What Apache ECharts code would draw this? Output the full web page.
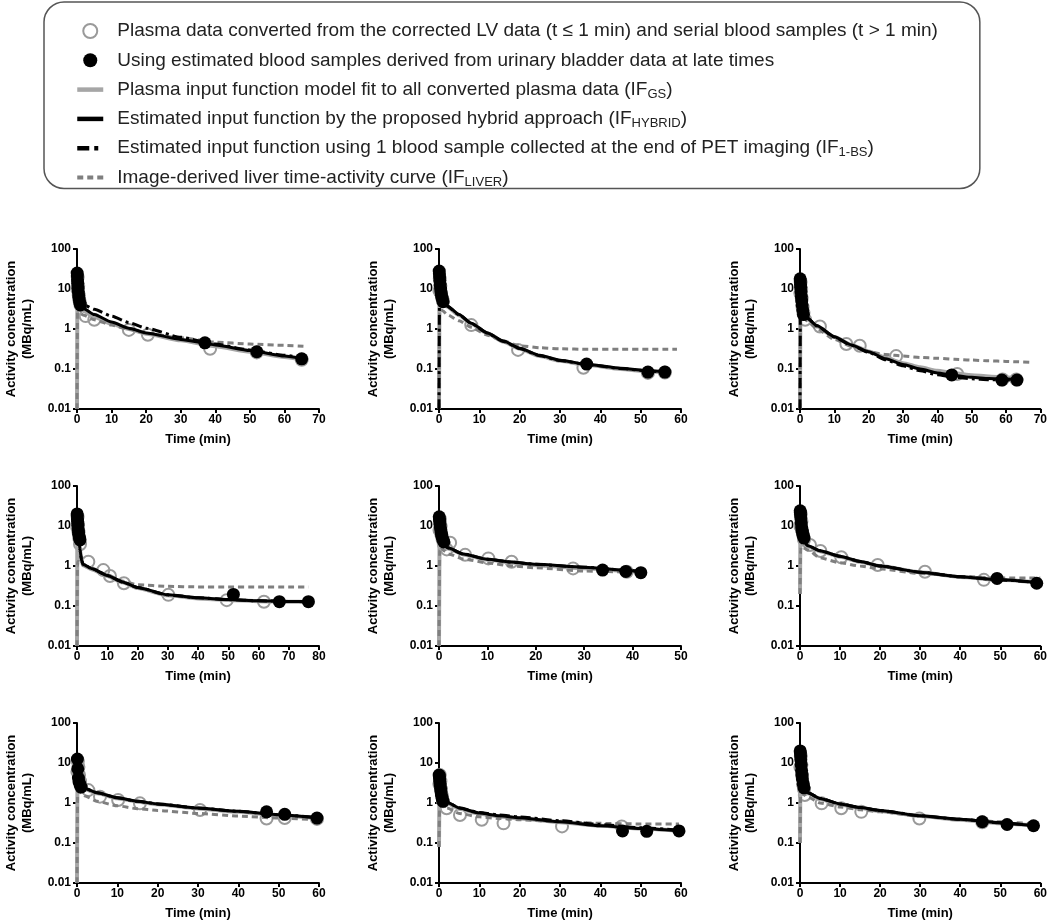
<!DOCTYPE html>
<html>
<head>
<meta charset="utf-8">
<script src="https://cdn.jsdelivr.net/npm/echarts@6/dist/echarts.min.js"></script>
<style>
  html, body { margin: 0; padding: 0; background: #fff; }
  #chart { width: 1050px; height: 923px; }
</style>
</head>
<body>
<div id="chart"></div>
<script>
// x axis end (min) of each panel, row by row
const xMax = [70, 60, 70, 80, 50, 60, 60, 60, 60];

// open grey circles: converted plasma data [t, MBq/mL]
const plasmaPts = [
  [[0.1, 10], [0.2, 20], [0.35, 12], [0.5, 7], [0.75, 5], [1, 4], [2.5, 2.1], [5, 1.7], [15, 0.95], [20.5, 0.72], [38.5, 0.32], [52, 0.26], [65, 0.17]],
  [[0.1, 9], [0.2, 18], [0.35, 12], [0.5, 8], [0.75, 6], [1, 5], [8, 1.25], [19.6, 0.3], [35.8, 0.107], [51.8, 0.08], [56, 0.082]],
  [[0.1, 8], [0.2, 15], [0.35, 10], [0.5, 6], [0.75, 3.5], [1, 2.5], [1.5, 1.7], [5.8, 1.15], [13.5, 0.42], [17.4, 0.38], [28, 0.21], [45.8, 0.075], [59, 0.055], [63, 0.055]],
  [[0.1, 9], [0.2, 17], [0.35, 11], [0.5, 7], [0.75, 5], [1, 3.5], [3.75, 1.28], [8.7, 0.79], [10.9, 0.56], [15.5, 0.37], [30.2, 0.19], [49.5, 0.14], [61.8, 0.128]],
  [[0.1, 8], [0.2, 15], [0.35, 10], [0.5, 6], [0.75, 4.5], [1, 3.5], [1.6, 2.6], [2.3, 3.8], [5.4, 1.9], [10.2, 1.55], [15, 1.28], [27.7, 0.87], [38.8, 0.72]],
  [[0.1, 10], [0.2, 20], [0.35, 13], [0.5, 8], [0.75, 6], [1, 4.5], [2.5, 3.35], [5.1, 2.37], [10.3, 1.65], [19.4, 1.06], [31.2, 0.72], [45.9, 0.45]],
  [[0.1, 6], [0.2, 11], [0.35, 8], [0.5, 5], [0.75, 3.5], [1, 2.6], [2.8, 2.1], [5.7, 1.44], [10.2, 1.19], [15.6, 0.98], [30.5, 0.67], [47, 0.41], [51.5, 0.42], [59.5, 0.4]],
  [[0.1, 3], [0.2, 5], [0.35, 3.5], [0.5, 2.2], [0.75, 1.5], [1, 1.1], [1.9, 0.74], [5.2, 0.5], [10.6, 0.38], [16, 0.31], [30.5, 0.26], [45.3, 0.26]],
  [[0.1, 8], [0.2, 15], [0.35, 9], [0.5, 5], [0.75, 3], [1, 2.2], [1.2, 1.58], [5.4, 0.98], [10.3, 0.74], [15.3, 0.6], [29.8, 0.41], [45.5, 0.33]]
];

// filled black circles: early LV samples + bladder-derived late samples
const bloodPts = [
  [[0.05, 25], [0.1, 21], [0.15, 17], [0.2, 14], [0.3, 10.5], [0.4, 8.5], [0.5, 6.8], [0.6, 5.6], [0.8, 4.6], [1, 4], [37, 0.45], [52, 0.27], [65, 0.18]],
  [[0.05, 28], [0.1, 24], [0.15, 20], [0.2, 16], [0.3, 12.5], [0.4, 10], [0.5, 8.5], [0.6, 7], [0.8, 5.8], [1, 4.8], [36.6, 0.133], [51.8, 0.084], [56, 0.084]],
  [[0.05, 18], [0.1, 16], [0.15, 13], [0.2, 11], [0.3, 8.5], [0.4, 6.5], [0.5, 5], [0.6, 4], [0.8, 3], [1, 2.3], [44.2, 0.071], [58.8, 0.053], [63.2, 0.053]],
  [[0.05, 20], [0.1, 18], [0.15, 15], [0.2, 13], [0.3, 10.5], [0.4, 8.5], [0.5, 7], [0.6, 6], [0.8, 5], [1, 4.5], [51.7, 0.195], [66.9, 0.128], [76.5, 0.128]],
  [[0.05, 17], [0.1, 15], [0.15, 13], [0.2, 11], [0.3, 9], [0.4, 7.5], [0.5, 6.3], [0.6, 5.5], [0.8, 4.6], [1, 4], [33.8, 0.79], [38.6, 0.73], [41.7, 0.68]],
  [[0.05, 24], [0.1, 22], [0.15, 19], [0.2, 16], [0.3, 12], [0.4, 9.5], [0.5, 8], [0.6, 7], [0.8, 5.8], [1, 5], [49.2, 0.49], [59.1, 0.37]],
  [[0.1, 12.6], [0.2, 7.1], [0.35, 4.2], [0.5, 3.4], [0.75, 2.9], [1, 2.5], [47, 0.6], [51.5, 0.52], [59.5, 0.42]],
  [[0.05, 5], [0.1, 4.6], [0.15, 4], [0.2, 3.4], [0.3, 2.8], [0.4, 2.3], [0.5, 1.9], [0.6, 1.6], [0.8, 1.3], [1, 1.1], [45.5, 0.2], [51.5, 0.196], [59.5, 0.2]],
  [[0.05, 20], [0.1, 18], [0.15, 15], [0.2, 12], [0.3, 9], [0.4, 6.5], [0.5, 5], [0.6, 4], [0.8, 3], [1, 2.4], [45.5, 0.34], [51.7, 0.29], [58.3, 0.27]]
];

// time points the curves were read at (one list per panel)
const curveT = [
  [0, 0.15, 0.3, 0.6, 1, 2, 5, 10, 15, 20, 30, 40, 50, 60, 65.5],
  [0, 0.15, 0.3, 0.6, 1, 2, 5, 8, 12, 16, 20, 25, 30, 37, 45, 52, 56, 59],
  [0, 0.15, 0.3, 0.6, 1, 2, 5, 10, 15, 20, 25, 30, 35, 40, 45, 50, 55, 60, 63, 67],
  [0, 0.15, 0.3, 0.6, 1, 1.5, 2, 5, 10, 15, 20, 30, 40, 50, 60, 70, 76.5],
  [0, 0.15, 0.3, 0.6, 1, 2, 5, 10, 15, 20, 30, 40, 42],
  [0, 0.15, 0.3, 0.6, 1, 2, 5, 10, 15, 20, 30, 40, 50, 59, 60],
  [0, 0.15, 0.3, 0.6, 1, 2, 5, 10, 15, 20, 30, 40, 50, 59.5],
  [0, 0.15, 0.3, 0.6, 1, 2, 5, 10, 15, 20, 30, 40, 50, 59.5],
  [0, 0.15, 0.3, 0.6, 1, 2, 5, 10, 15, 20, 30, 40, 50, 58.3]
];

// IF_GS (grey solid)
const gsFit = [
  [0.01, 22, 11, 6, 3.8, 2.8, 2.0, 1.35, 1.0, 0.76, 0.52, 0.37, 0.27, 0.2, 0.17],
  [0.01, 25, 14, 7.5, 4.6, 3.6, 2.2, 1.35, 0.78, 0.48, 0.32, 0.21, 0.16, 0.125, 0.1, 0.087, 0.083, null],
  [0.01, 18, 9, 4.5, 2.1, 1.8, 1.15, 0.63, 0.4, 0.275, 0.19, 0.14, 0.11, 0.09, 0.078, 0.07, 0.065, 0.061, 0.06, null],
  [0.01, 20, 10, 5, 2.4, 1.35, 1.05, 0.82, 0.56, 0.39, 0.28, 0.185, 0.155, 0.142, 0.132, 0.128, 0.126],
  [0.01, 20, 10, 5, 3.2, 2.7, 1.95, 1.45, 1.22, 1.05, 0.88, 0.74, 0.7],
  [0.2, 25, 12, 6, 3.9, 3.1, 2.35, 1.7, 1.28, 1.0, 0.7, 0.53, 0.45, 0.39, null],
  [0.01, 13, 7, 4, 2.7, 2.2, 1.75, 1.32, 1.08, 0.93, 0.73, 0.6, 0.49, 0.42],
  [0.08, 5, 3.5, 2, 1.25, 1.0, 0.72, 0.54, 0.46, 0.41, 0.33, 0.27, 0.23, 0.2],
  [0.1, 20, 10, 4.5, 2.2, 1.75, 1.25, 0.92, 0.75, 0.63, 0.47, 0.38, 0.31, 0.27]
];

// IF_HYBRID (black solid)
const hybridFit = [
  [null, 22, 11, 6, 4.0, 3.2, 2.3, 1.5, 1.05, 0.8, 0.55, 0.4, 0.29, 0.21, 0.18],
  [null, 25, 14, 7.5, 4.8, 3.8, 2.3, 1.4, 0.8, 0.5, 0.33, 0.22, 0.165, 0.13, 0.105, 0.09, 0.085, null],
  [null, 18, 9, 4.5, 2.2, 1.9, 1.2, 0.64, 0.4, 0.27, 0.18, 0.13, 0.1, 0.08, 0.069, 0.062, 0.058, 0.056, 0.055, null],
  [null, 20, 10, 5, 2.5, 1.4, 1.1, 0.85, 0.58, 0.4, 0.29, 0.19, 0.16, 0.145, 0.135, 0.13, 0.128],
  [null, 20, 10, 5, 3.3, 2.8, 2.0, 1.47, 1.25, 1.1, 0.93, 0.76, 0.7],
  [null, 25, 12, 6, 4.0, 3.2, 2.4, 1.75, 1.3, 1.0, 0.7, 0.54, 0.45, 0.39, null],
  [null, 13, 7, 4, 2.8, 2.3, 1.8, 1.35, 1.1, 0.95, 0.75, 0.62, 0.51, 0.43],
  [null, 5, 3.5, 2, 1.3, 1.05, 0.75, 0.56, 0.48, 0.43, 0.34, 0.27, 0.23, 0.2],
  [null, 20, 10, 4.5, 2.3, 1.8, 1.3, 0.95, 0.77, 0.65, 0.48, 0.39, 0.32, 0.27]
];

// IF_1-BS (black dash-dot)
const oneBsFit = [
  [null, 22, 11, 6, 4.4, 4.0, 3.1, 2.1, 1.45, 1.05, 0.62, 0.42, 0.3, 0.22, 0.185],
  [0.01, 25, 14, 7.5, 4.7, 3.7, 2.25, 1.38, 0.79, 0.49, 0.325, 0.215, 0.163, 0.128, 0.103, 0.089, 0.084, null],
  [0.01, 18, 9, 4.5, 2.2, 1.9, 1.2, 0.63, 0.39, 0.26, 0.17, 0.12, 0.09, 0.072, 0.062, 0.057, 0.054, 0.053, 0.052, null],
  [null, 20, 10, 5, 2.5, 1.4, 1.1, 0.85, 0.58, 0.4, 0.29, 0.19, 0.16, 0.145, 0.135, 0.13, 0.128],
  [null, 20, 10, 5, 3.3, 2.8, 2.0, 1.47, 1.25, 1.1, 0.93, 0.76, 0.7],
  [null, 25, 12, 6, 4.0, 3.2, 2.4, 1.75, 1.3, 1.0, 0.7, 0.54, 0.45, 0.39, null],
  [null, 13, 7, 4, 2.8, 2.3, 1.8, 1.35, 1.1, 0.95, 0.75, 0.62, 0.51, 0.43],
  [null, 5, 3.5, 2, 1.3, 1.05, 0.76, 0.58, 0.5, 0.45, 0.36, 0.29, 0.24, 0.21],
  [null, 20, 10, 4.5, 2.3, 1.8, 1.3, 0.95, 0.77, 0.65, 0.48, 0.39, 0.32, 0.27]
];

// IF_LIVER (grey dashed)
const liverTac = [
  [0.01, 3.5, 3.0, 2.6, 2.4, 2.2, 1.7, 1.25, 0.98, 0.78, 0.6, 0.47, 0.42, 0.39, 0.37],
  [0.01, 2.5, 3.0, 3.0, 2.8, 2.3, 1.6, 1.1, 0.7, 0.5, 0.38, 0.34, 0.32, 0.31, 0.31, 0.31, 0.31, 0.31],
  [0.01, 2.4, 2.2, 2.0, 1.9, 1.6, 1.0, 0.55, 0.37, 0.27, 0.23, 0.21, 0.195, 0.185, 0.175, 0.167, 0.16, 0.155, 0.152, 0.148],
  [0.01, 1.0, 1.3, 1.3, 1.2, 1.1, 1.05, 0.88, 0.6, 0.42, 0.34, 0.31, 0.3, 0.3, 0.3, 0.3, 0.3],
  [0.01, 2.5, 3.0, 2.8, 2.4, 2.0, 1.5, 1.2, 1.0, 0.9, 0.75, 0.7, 0.7],
  [0.2, 2.5, 3.0, 3.0, 2.8, 2.5, 1.6, 1.2, 1.0, 0.85, 0.65, 0.55, 0.5, 0.5, 0.5],
  [0.01, 1.5, 2.0, 2.0, 1.8, 1.5, 1.1, 0.85, 0.72, 0.65, 0.55, 0.47, 0.42, 0.38],
  [0.08, 0.8, 0.9, 0.9, 0.85, 0.75, 0.55, 0.45, 0.41, 0.38, 0.34, 0.31, 0.3, 0.3],
  [0.1, 1.5, 1.8, 1.8, 1.6, 1.4, 1.0, 0.8, 0.68, 0.6, 0.47, 0.39, 0.34, 0.3]
];

const legendText = {
  plasma: 'Plasma data converted from the corrected LV data (t \u2264 1 min) and serial blood samples (t > 1 min)',
  blood: 'Using estimated blood samples derived from urinary bladder data at late times',
  gs: 'Plasma input function model fit to all converted plasma data (IF{sub|GS})',
  hybrid: 'Estimated input function by the proposed hybrid approach (IF{sub|HYBRID})',
  oneBS: 'Estimated input function using 1 blood sample collected at the end of PET imaging (IF{sub|1-BS})',
  liver: 'Image-derived liver time-activity curve (IF{sub|LIVER})'
};

const FONT = 'Liberation Sans';
const gridLeft = [77, 439, 800];
const gridTop = [249, 486, 723];

function pairs(ts, vs) {
  const out = [];
  ts.forEach(function (t, k) {
    if (vs[k] != null) out.push([t, vs[k]]);
  });
  return out;
}

const grids = [], xAxes = [], yAxes = [], series = [];

for (let i = 0; i < 9; i++) {
  grids.push({
    left: gridLeft[i % 3],
    top: gridTop[Math.floor(i / 3)],
    width: 242,
    height: 160
  });

  xAxes.push({
    gridIndex: i,
    type: 'value',
    min: 0,
    max: xMax[i],
    interval: 10,
    splitLine: { show: false },
    axisLine: { onZero: false, lineStyle: { color: '#000', width: 2 } },
    axisTick: { length: 4, lineStyle: { width: 2 } },
    axisLabel: { color: '#000', fontFamily: FONT, fontWeight: 'bold', fontSize: 12, margin: 5 },
    name: 'Time (min)',
    nameLocation: 'middle',
    nameGap: 24,
    nameTextStyle: { color: '#000', fontFamily: FONT, fontWeight: 'bold', fontSize: 13 }
  });

  yAxes.push({
    gridIndex: i,
    type: 'log',
    logBase: 10,
    min: 0.01,
    max: 100,
    splitLine: { show: false },
    axisLine: { show: true, lineStyle: { color: '#000', width: 2 } },
    axisTick: { show: true, length: 4, lineStyle: { width: 2 } },
    axisLabel: { color: '#000', fontFamily: FONT, fontWeight: 'bold', fontSize: 12, margin: 6 },
    name: 'Activity concentration\n(MBq/mL)',
    nameLocation: 'middle',
    nameRotate: 90,
    nameGap: 42,
    nameTextStyle: { color: '#000', fontFamily: FONT, fontWeight: 'bold', fontSize: 13, lineHeight: 16 }
  });

  const common = { xAxisIndex: i, yAxisIndex: i };

  series.push(Object.assign({
    name: 'plasma',
    type: 'scatter',
    symbol: 'circle',
    symbolSize: 12,
    z: 2,
    itemStyle: { color: 'rgba(255,255,255,0)', borderColor: '#9a9a9a', borderWidth: 2, opacity: 1 },
    data: plasmaPts[i]
  }, common));

  series.push(Object.assign({
    name: 'gs',
    type: 'line',
    showSymbol: false,
    smooth: 0.2,
    smoothMonotone: 'x',
    z: 3,
    lineStyle: { color: '#a6a6a6', width: 4 },
    itemStyle: { color: '#a6a6a6' },
    data: pairs(curveT[i], gsFit[i])
  }, common));

  series.push(Object.assign({
    name: 'liver',
    type: 'line',
    showSymbol: false,
    smooth: 0.2,
    smoothMonotone: 'x',
    z: 4,
    lineStyle: { color: '#7f7f7f', width: 3, type: [6, 4] },
    itemStyle: { color: '#7f7f7f' },
    data: pairs(curveT[i], liverTac[i])
  }, common));

  series.push(Object.assign({
    name: 'oneBS',
    type: 'line',
    showSymbol: false,
    smooth: 0.2,
    smoothMonotone: 'x',
    z: 5,
    lineStyle: { color: '#000', width: 3, type: [10, 4, 3, 4] },
    itemStyle: { color: '#000' },
    data: pairs(curveT[i], oneBsFit[i])
  }, common));

  series.push(Object.assign({
    name: 'hybrid',
    type: 'line',
    showSymbol: false,
    smooth: 0.2,
    smoothMonotone: 'x',
    z: 6,
    lineStyle: { color: '#000', width: 3 },
    itemStyle: { color: '#000' },
    data: pairs(curveT[i], hybridFit[i])
  }, common));

  series.push(Object.assign({
    name: 'blood',
    type: 'scatter',
    symbol: 'circle',
    symbolSize: 13,
    z: 7,
    itemStyle: { color: '#000', opacity: 1 },
    data: bloodPts[i]
  }, common));
}

const chart = echarts.init(document.getElementById('chart'), null, { renderer: 'canvas' });

chart.setOption({
  animation: false,
  backgroundColor: '#fff',
  legend: {
    orient: 'vertical',
    left: 44,
    top: 2,
    padding: [18, 42, 0, 31],
    itemWidth: 26,
    itemHeight: 14,
    itemGap: 7.3,
    selectedMode: false,
    borderColor: '#555',
    borderWidth: 1.5,
    borderRadius: 20,
    data: [
      { name: 'plasma' },
      { name: 'blood' },
      { name: 'gs', itemStyle: { opacity: 0 }, lineStyle: { width: 4.5 } },
      { name: 'hybrid', itemStyle: { opacity: 0 }, lineStyle: { width: 4.5 } },
      { name: 'oneBS', itemStyle: { opacity: 0 }, lineStyle: { width: 4.5, type: [12, 5, 4, 5] } },
      { name: 'liver', itemStyle: { opacity: 0 }, lineStyle: { width: 4, type: [6, 4] } }
    ],
    formatter: function (name) { return legendText[name]; },
    textStyle: {
      fontFamily: FONT,
      fontSize: 19,
      color: '#222',
      lineHeight: 22,
      padding: [0, 0, 0, 9],
      rich: {
        sub: { fontFamily: FONT, fontSize: 13, lineHeight: 13, color: '#222', verticalAlign: 'bottom' }
      }
    }
  },
  grid: grids,
  xAxis: xAxes,
  yAxis: yAxes,
  series: series
});
</script>
</body>
</html>
